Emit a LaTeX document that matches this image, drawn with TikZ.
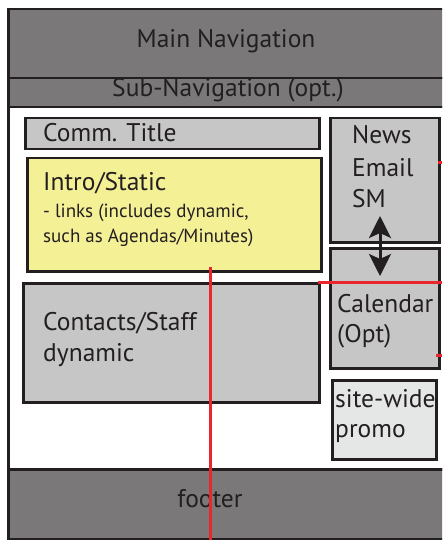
\documentclass[tikz,border=0pt]{standalone}
\usepackage{fontspec}
\setmainfont{PT Sans}
\usetikzlibrary{arrows.meta}
\definecolor{navgray}{RGB}{122,120,121}
\definecolor{boxgray}{RGB}{198,198,198}
\definecolor{introyellow}{RGB}{244,240,150}
\definecolor{promogray}{RGB}{229,230,230}
\definecolor{ink}{RGB}{35,31,32}
\definecolor{markred}{RGB}{232,38,43}
\tikzset{
  panel/.style={draw=ink, line width=2.5pt, inner sep=0pt, anchor=north west},
  navpanel/.style={panel, fill=navgray},
  greybox/.style={panel, fill=boxgray},
  label/.style={text=ink, inner sep=0pt, anchor=base west, font=\fontsize{25.5}{30}\selectfont},
  centerlabel/.style={label, anchor=base},
  smalllabel/.style={label, font=\fontsize{19}{23}\selectfont},
  redline/.style={draw=markred, line width=3pt},
  swaparrow/.style={draw=ink, line width=3pt, {Stealth[length=22pt,width=22pt,inset=5pt]}-{Stealth[length=22pt,width=22pt,inset=5pt]}}
}
\begin{document}
\begin{tikzpicture}[x=1pt,y=-1pt]
\useasboundingbox (0,0) rectangle (442,540);
\clip (0,0) rectangle (442,540);

% page frame: header bars, body and footer
\node[navpanel, minimum width=450pt, minimum height=69pt] (mainnav) at (7,8) {};
\node[navpanel, minimum width=450pt, minimum height=29pt] (subnav) at (7,77) {};
\node[panel, fill=white, minimum width=450pt, minimum height=362pt] (body) at (7,106) {};
\node[navpanel, minimum width=450pt, minimum height=70pt] (footer) at (7,468) {};

\node[centerlabel] (mainnavtext) at (226,48) {Main Navigation};
\node[centerlabel] (subnavtext) at (228,97) {Sub-Navigation (opt.)};
\node[centerlabel] (footertext) at (210,507) {footer};

% left column
\node[greybox, minimum width=294pt, minimum height=31pt] (title) at (24,117) {};
\node[label] (titletext) at (43,142) {Comm. Title};

\node[panel, fill=introyellow, minimum width=294pt, minimum height=113pt] (intro) at (26,157) {};
\node[label] (introtext) at (43,190) {Intro/Static};
\node[smalllabel] (introline1) at (43,217) {- links (includes dynamic,};
\node[smalllabel] (introline2) at (43,242) {such as Agendas/Minutes)};

\node[greybox, minimum width=296pt, minimum height=119pt] (contacts) at (22,282) {};
\node[label] (contactstext) at (43,330) {Contacts/Staff};
\node[label] (contactsline2) at (43,361) {dynamic};

% right column
\node[greybox, minimum width=109pt, minimum height=124pt] (news) at (329,117) {};
\node[label] (newstext) at (352,144) {News};
\node[label] (emailtext) at (352,176) {Email};
\node[label] (smtext) at (352,207) {SM};

\node[greybox, minimum width=109pt, minimum height=120pt] (calendar) at (329,247) {};
\node[label] (calendartext) at (337,312) {Calendar};
\node[label] (opttext) at (337,342) {(Opt)};

\node[panel, fill=promogray, minimum width=104pt, minimum height=79pt] (promo) at (331,379) {};
\node[label] (promotext) at (335,407) {site-wide};
\node[label] (promoline2) at (335,437) {promo};

% swap arrow between news and calendar
\coordinate (swaptop) at (380,216);
\coordinate (swapbottom) at (380,276);
\draw[swaparrow] (swaptop) -- (swapbottom);

% red guide lines
\coordinate (guidetop) at (210,267);
\coordinate (guidebottom) at (210,540);
\draw[redline] (guidetop) -- (guidebottom);
\coordinate (guideleft) at (318,282);
\coordinate (guideright) at (442,282);
\draw[redline] (guideleft) -- (guideright);
\coordinate (newstick) at (438,163);
\coordinate (newstickend) at (442,163);
\draw[redline] (newstick) -- (newstickend);
\coordinate (caltick) at (436,355);
\coordinate (caltickend) at (442,355);
\draw[redline] (caltick) -- (caltickend);
\end{tikzpicture}
\end{document}
